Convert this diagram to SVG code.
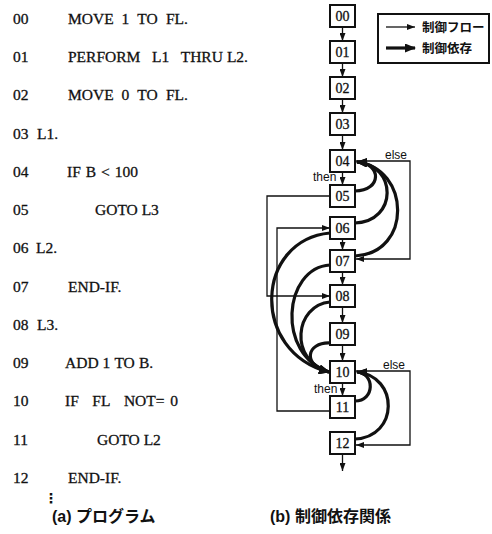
<svg xmlns="http://www.w3.org/2000/svg" width="492" height="534" viewBox="0 0 492 534">
<style>
.prog{font-family:"Liberation Serif","Times New Roman",serif;font-size:15.5px;fill:#111;stroke:#111;stroke-width:0.3}
.box{fill:#fff;stroke:#111;stroke-width:2}
.lbl{font-family:"Liberation Serif","Times New Roman",serif;font-size:14px;fill:#111;stroke:#111;stroke-width:0.3;text-anchor:middle}
.flow{fill:none;stroke:#111;stroke-width:1.3;marker-end:url(#thin)}
.dep{fill:none;stroke:#111;stroke-width:3.2;marker-end:url(#thick)}
.tag{font-family:"Liberation Sans",Arial,sans-serif;font-size:12px;fill:#111}
.cap{font-family:"Liberation Sans","Noto Sans CJK JP",sans-serif;font-size:16px;font-weight:bold;fill:#111}
.leg{font-family:"Noto Sans CJK JP",sans-serif;font-size:12.5px;font-weight:bold;fill:#111}
</style>
<defs>
<marker id="thin" markerWidth="8" markerHeight="6" refX="8" refY="3" orient="auto" markerUnits="userSpaceOnUse"><path d="M0,0 L8,3 L0,6 z" fill="#111"/></marker>
<marker id="thick" markerWidth="11" markerHeight="9" refX="10" refY="4.5" orient="auto" markerUnits="userSpaceOnUse"><path d="M0,0 L11,4.5 L0,9 z" fill="#111"/></marker>
</defs>
<rect width="492" height="534" fill="#fff"/>

<g id="program">
<text class="prog" x="13" y="24">00</text>
<text class="prog" y="24"><tspan x="68">MOVE</tspan><tspan x="121.6">1</tspan><tspan x="137.3">TO</tspan><tspan x="166">FL.</tspan></text>
<text class="prog" x="13" y="62">01</text>
<text class="prog" y="62"><tspan x="68">PERFORM</tspan><tspan x="152">L1</tspan><tspan x="180.7">THRU</tspan><tspan x="226.9">L2.</tspan></text>
<text class="prog" x="13" y="100">02</text>
<text class="prog" y="100"><tspan x="68">MOVE</tspan><tspan x="121.6">0</tspan><tspan x="137.3">TO</tspan><tspan x="166">FL.</tspan></text>
<text class="prog" x="13" y="139">03</text><text class="prog" x="37" y="139">L1.</text>
<text class="prog" x="13" y="177">04</text>
<text class="prog" y="177"><tspan x="67">IF</tspan><tspan x="85.8">B</tspan><tspan x="101.1">&lt;</tspan><tspan x="114.8">100</tspan></text>
<text class="prog" x="13" y="215">05</text><text class="prog" x="95" y="215">GOTO L3</text>
<text class="prog" x="13" y="253">06</text><text class="prog" x="36" y="253">L2.</text>
<text class="prog" x="13" y="292">07</text><text class="prog" x="68" y="292">END-IF.</text>
<text class="prog" x="13" y="330">08</text><text class="prog" x="37" y="330">L3.</text>
<text class="prog" x="13" y="368">09</text>
<text class="prog" y="368"><tspan x="65">ADD</tspan><tspan x="102.6">1</tspan><tspan x="114.4">TO</tspan><tspan x="139">B.</tspan></text>
<text class="prog" x="13" y="406">10</text>
<text class="prog" y="406"><tspan x="65">IF</tspan><tspan x="92.3">FL</tspan><tspan x="123.9">NOT=</tspan><tspan x="170.2">0</tspan></text>
<text class="prog" x="13" y="445">11</text><text class="prog" x="97" y="445">GOTO L2</text>
<text class="prog" x="13" y="483">12</text><text class="prog" x="68" y="483">END-IF.</text>
<text x="51" y="503" style="font-family:'DejaVu Sans',sans-serif;font-size:14px;font-weight:bold;fill:#111;text-anchor:middle">⋮</text>
<text class="cap" x="52" y="522">(a) プログラム</text>
</g>

<g id="connectors">
<line class="flow" x1="342.5" y1="27" x2="342.5" y2="41"/>
<line class="flow" x1="342.5" y1="63" x2="342.5" y2="77"/>
<line class="flow" x1="342.5" y1="99" x2="342.5" y2="113"/>
<line class="flow" x1="342.5" y1="135" x2="342.5" y2="150"/>
<line class="flow" x1="342.5" y1="172" x2="342.5" y2="185"/>
<line class="flow" x1="342.5" y1="239" x2="342.5" y2="250"/>
<line class="flow" x1="342.5" y1="272" x2="342.5" y2="285"/>
<line class="flow" x1="342.5" y1="307" x2="342.5" y2="323"/>
<line class="flow" x1="342.5" y1="345" x2="342.5" y2="361"/>
<line class="flow" x1="342.5" y1="383" x2="342.5" y2="396"/>
<line class="flow" x1="342.5" y1="454" x2="342.5" y2="471"/>
<polyline class="flow" points="330,196 267,196 267,296 330,296"/>
<polyline class="flow" points="330,411 277,411 277,228 330,228"/>
<polyline class="flow" points="355,161 410,161 410,259 356,259"/>
<polyline class="flow" points="355,371 410,371 410,445 356,445"/>
<path class="dep" d="M355,191 C382,191 382,163 357,162"/>
<path class="dep" d="M355,223 C398,221 397,165 357,162"/>
<path class="dep" d="M355,256 C413,253 410,168 357,162"/>
<path class="dep" d="M355,401 C375,401 375,373 357,372"/>
<path class="dep" d="M355,439 C399,437 399,376 357,372"/>
<path class="dep" d="M330,233 C255,240 250,352 329,372"/>
<path class="dep" d="M330,265 C283,268 276,355 329,372"/>
<path class="dep" d="M330,302 C295,305 288,360 329,372"/>
<path class="dep" d="M330,343 C306,342 302,366 329,372"/>
<text class="tag" x="313" y="181">then</text>
<text class="tag" x="385" y="159">else</text>
<text class="tag" x="314" y="393">then</text>
<text class="tag" x="383" y="369">else</text>
</g>

<g id="n00"><rect class="box" x="330" y="5" width="25" height="22"/><text class="lbl" x="342.5" y="21">00</text></g>
<g id="n01"><rect class="box" x="330" y="41" width="25" height="22"/><text class="lbl" x="342.5" y="57">01</text></g>
<g id="n02"><rect class="box" x="330" y="77" width="25" height="22"/><text class="lbl" x="342.5" y="93">02</text></g>
<g id="n03"><rect class="box" x="330" y="113" width="25" height="22"/><text class="lbl" x="342.5" y="129">03</text></g>
<g id="n04"><rect class="box" x="330" y="150" width="25" height="22"/><text class="lbl" x="342.5" y="166">04</text></g>
<g id="n05"><rect class="box" x="330" y="185" width="25" height="22"/><text class="lbl" x="342.5" y="201">05</text></g>
<g id="n06"><rect class="box" x="330" y="217" width="25" height="22"/><text class="lbl" x="342.5" y="233">06</text></g>
<g id="n07"><rect class="box" x="330" y="250" width="25" height="22"/><text class="lbl" x="342.5" y="266">07</text></g>
<g id="n08"><rect class="box" x="330" y="285" width="25" height="22"/><text class="lbl" x="342.5" y="301">08</text></g>
<g id="n09"><rect class="box" x="330" y="323" width="25" height="22"/><text class="lbl" x="342.5" y="339">09</text></g>
<g id="n10"><rect class="box" x="330" y="361" width="25" height="22"/><text class="lbl" x="342.5" y="377">10</text></g>
<g id="n11"><rect class="box" x="330" y="396" width="25" height="22"/><text class="lbl" x="342.5" y="412">11</text></g>
<g id="n12"><rect class="box" x="330" y="432" width="25" height="22"/><text class="lbl" x="342.5" y="448">12</text></g>

<g id="legend">
<rect x="378" y="14" width="111" height="49" fill="#fff" stroke="#111" stroke-width="2"/>
<line x1="386" y1="27" x2="415" y2="27" stroke="#111" stroke-width="1.3" marker-end="url(#thin)"/>
<text class="leg" x="422" y="32">制御フロー</text>
<line x1="386" y1="48" x2="415" y2="48" stroke="#111" stroke-width="3.2" marker-end="url(#thick)"/>
<text class="leg" x="422" y="53">制御依存</text>
</g>

<text class="cap" x="270" y="522">(b) 制御依存関係</text>
</svg>
